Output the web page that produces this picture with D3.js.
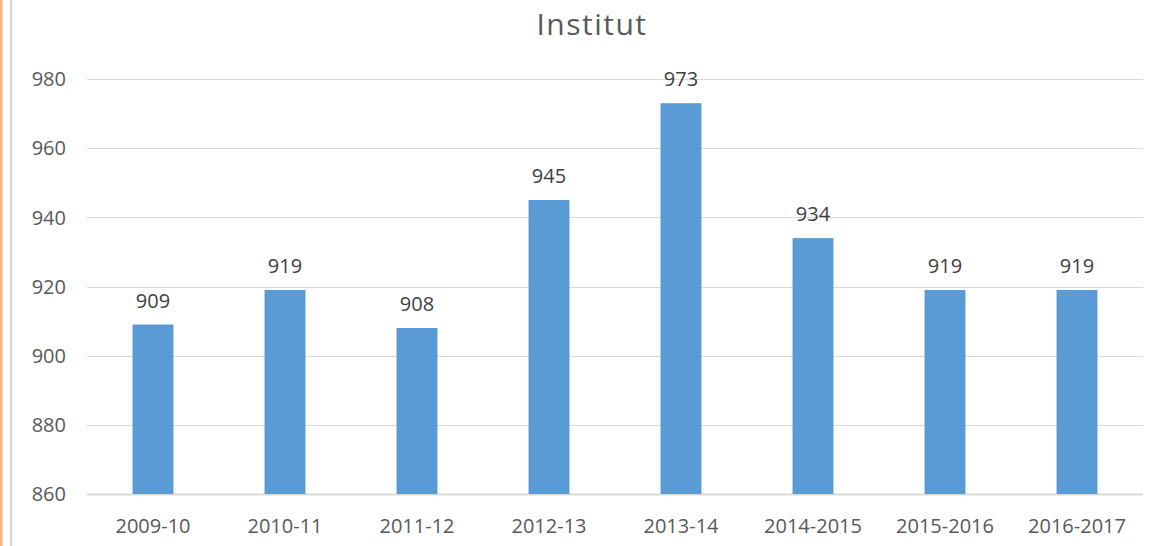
<!DOCTYPE html>
<html>
<head>
<meta charset="utf-8">
<script src="https://cdn.jsdelivr.net/npm/d3@7"></script>
<style>
  body { margin: 0; background: #fff; }
  svg { display: block; font-family: "Open Sans", sans-serif; }
</style>
</head>
<body>
<div id="chart"></div>
<script>
const categories = ["2009-10", "2010-11", "2011-12", "2012-13", "2013-14", "2014-2015", "2015-2016", "2016-2017"];
const values = [909, 919, 908, 945, 973, 934, 919, 919];
const yTicks = [860, 880, 900, 920, 940, 960, 980];

const width = 1160, height = 546;
const margin = { top: 80, right: 17, bottom: 52, left: 87 };

const svg = d3.select("#chart").append("svg")
  .attr("width", width)
  .attr("height", height);

// side rules at the left edge of the picture
svg.append("rect").attr("x", 0).attr("y", 0).attr("width", 2.5).attr("height", height).attr("fill", "#f4b183");
svg.append("rect").attr("x", 10).attr("y", 0).attr("width", 2.5).attr("height", height).attr("fill", "#d9d9d9");

const x = d3.scaleBand()
  .domain(categories)
  .range([margin.left, width - margin.right])
  .paddingInner(0.69)
  .paddingOuter(0.345);

const y = d3.scaleLinear()
  .domain([860, 980])
  .range([height - margin.bottom, margin.top - 1]);

// gridlines
svg.append("g")
  .selectAll("line")
  .data(yTicks)
  .join("line")
  .attr("x1", margin.left)
  .attr("x2", width - margin.right)
  .attr("y1", d => Math.round(y(d)) + 0.5)
  .attr("y2", d => Math.round(y(d)) + 0.5)
  .attr("stroke", "#d9d9d9")
  .attr("stroke-width", d => d === 860 ? 2 : 1);

// y tick labels
svg.append("g")
  .attr("font-size", 20)
  .attr("fill", "#595959")
  .attr("text-anchor", "end")
  .selectAll("text")
  .data(yTicks)
  .join("text")
  .attr("x", 66)
  .attr("y", d => y(d))
  .attr("dy", "0.36em")
  .text(d => d);

// bars
svg.append("g")
  .attr("fill", "#5b9bd5")
  .selectAll("rect")
  .data(values)
  .join("rect")
  .attr("x", (d, i) => x(categories[i]))
  .attr("width", x.bandwidth())
  .attr("y", d => y(d))
  .attr("height", d => y(860) - y(d));

// value labels
svg.append("g")
  .attr("font-size", 20)
  .attr("fill", "#404040")
  .attr("text-anchor", "middle")
  .selectAll("text")
  .data(values)
  .join("text")
  .attr("x", (d, i) => x(categories[i]) + x.bandwidth() / 2)
  .attr("y", d => y(d) - 17)
  .text(d => d);

// category labels
svg.append("g")
  .attr("font-size", 20)
  .attr("fill", "#595959")
  .attr("text-anchor", "middle")
  .selectAll("text")
  .data(categories)
  .join("text")
  .attr("x", d => x(d) + x.bandwidth() / 2)
  .attr("y", 533)
  .text(d => d);

// title
svg.append("text")
  .attr("x", 592)
  .attr("y", 35)
  .attr("text-anchor", "middle")
  .attr("font-size", 30)
  .attr("letter-spacing", 1.5)
  .attr("fill", "#595959")
  .text("Institut");
</script>
</body>
</html>
